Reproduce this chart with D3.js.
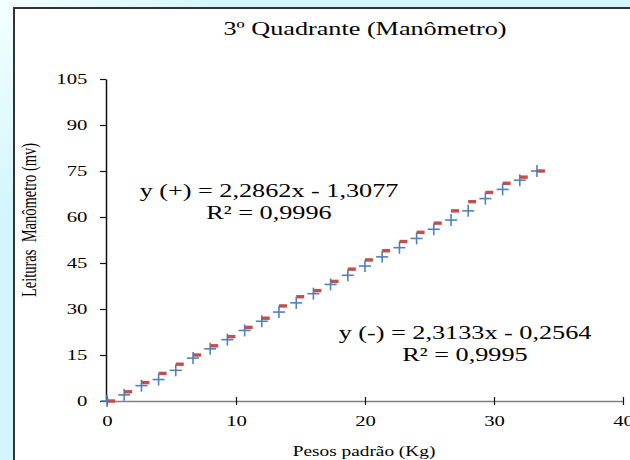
<!DOCTYPE html>
<html>
<head>
<meta charset="utf-8">
<script src="https://cdnjs.cloudflare.com/ajax/libs/d3/7.8.5/d3.min.js"></script>
<style>
body{margin:0;overflow:hidden;}
svg{display:block;}
</style>
</head>
<body>
<div id="chart"></div>
<script>
// data
var pesos = [0, 1.33, 2.67, 4, 5.33, 6.67, 8, 9.33, 10.67, 12, 13.33, 14.67, 16, 17.33, 18.67, 20, 21.33, 22.67, 24, 25.33, 26.67, 28, 29.33, 30.67, 32, 33.33];
var leiturasMais = [0, 2, 5, 7, 10, 14, 17, 20, 23, 26, 29, 32, 35, 38, 41, 44, 47, 50, 53, 56, 59, 62, 66, 69, 72, 75];
var leiturasMenos = [0, 3, 6, 9, 12, 15, 18, 21, 24, 27, 31, 34, 36, 39, 43, 46, 49, 52, 55, 58, 62, 65, 68, 71, 73, 75];
var xTicks = [0, 10, 20, 30, 40];
var yTicks = [0, 15, 30, 45, 60, 75, 90, 105];
var titulo = "3º Quadrante (Manômetro)";
var tituloX = "Pesos padrão (Kg)";
var tituloY = "Leituras\u00a0 Manômetro (mv)";
var eqMais = ["y (+) = 2,2862x - 1,3077", "R² = 0,9996"];
var eqMenos = ["y (-) = 2,3133x - 0,2564", "R² = 0,9995"];

var W = 630, H = 460;
var SX = 1.38; // text in the picture is stretched sideways
var FONT = "'Liberation Serif','Times New Roman',serif";

var svg = d3.select("#chart").append("svg").attr("width", W).attr("height", H);

var defs = svg.append("defs");
var grad = defs.append("linearGradient").attr("id", "fundo")
	.attr("gradientUnits", "userSpaceOnUse")
	.attr("x1", 0).attr("y1", 0).attr("x2", 110).attr("y2", 110);
grad.append("stop").attr("offset", "0").attr("stop-color", "#f4ffff");
grad.append("stop").attr("offset", "1").attr("stop-color", "#d3f6fc");

svg.append("rect").attr("width", W).attr("height", H).attr("fill", "url(#fundo)");
// chart frame, cut by the window on the right and bottom
svg.append("rect").attr("x", 14).attr("y", 8).attr("width", W + 10).attr("height", H + 10)
	.attr("fill", "white").attr("stroke", "#333").attr("stroke-width", 2);

var x = d3.scaleLinear().domain([0, 40]).range([107, 623]);
var y = d3.scaleLinear().domain([0, 105]).range([401, 79]);

// stretched text helper
function texto(g, tx, ty, str, size, anchor) {
	return g.append("text")
		.attr("transform", "translate(" + tx + "," + ty + ") scale(" + SX + ",1)")
		.attr("text-anchor", anchor || "middle")
		.style("font-family", FONT).style("font-size", size + "px").attr("fill", "#000")
		.text(str);
}

// y axis
var gy = svg.append("g").attr("transform", "translate(106,0)")
	.call(d3.axisLeft(y).tickValues(yTicks).tickSize(6).tickSizeOuter(0));
gy.select(".domain").attr("stroke", "#111").attr("stroke-width", 1.5);
gy.selectAll(".tick line").attr("stroke", "#111").attr("stroke-width", 1.2);
gy.selectAll(".tick text").attr("x", -13.5).attr("dy", "0.33em")
	.attr("transform", "scale(" + SX + ",1)")
	.style("font-family", FONT).style("font-size", "15px").attr("fill", "#000");

// x axis
var gx = svg.append("g").attr("transform", "translate(0,401)")
	.call(d3.axisBottom(x).tickValues(xTicks).tickSize(5).tickSizeOuter(0));
gx.select(".domain").attr("stroke", "#7f7f7f").attr("stroke-width", 1.5);
gx.selectAll(".tick line").attr("stroke", "#111").attr("stroke-width", 1.2).attr("y1", -4).attr("y2", 4);
gx.selectAll(".tick text").attr("y", 0).attr("dy", "1.65em")
	.style("font-family", FONT).style("font-size", "15px").attr("fill", "#000")
	.attr("transform", "scale(" + SX + ",1)").attr("x", 0);

// titles
texto(svg, 365, 35, titulo, 19);
texto(svg, 364, 456, tituloX, 14);
svg.append("text")
	.attr("transform", "translate(36,220) scale(" + SX + ",1) rotate(-90)")
	.attr("text-anchor", "middle")
	.style("font-family", FONT).style("font-size", "14.5px")
	.text(tituloY);

// markers
var pts = svg.append("g");
pesos.forEach(function(p, i) {
	var cx = x(p), cy = y(leiturasMais[i]);
	pts.append("line").attr("x1", cx - 6).attr("x2", cx + 6).attr("y1", cy).attr("y2", cy)
		.attr("stroke", "#4f81bd").attr("stroke-width", 1.6);
	pts.append("line").attr("x1", cx).attr("x2", cx).attr("y1", cy - 6).attr("y2", cy + 6)
		.attr("stroke", "#4f81bd").attr("stroke-width", 1.6);
});
pesos.forEach(function(p, i) {
	var cx = x(p), cy = y(leiturasMenos[i]);
	pts.append("rect").attr("x", cx).attr("y", cy - 1.7).attr("width", 8).attr("height", 3.4)
		.attr("fill", "#c0504d");
});

// trendline equations
texto(svg, 269, 197, eqMais[0], 19);
texto(svg, 269, 219, eqMais[1], 19);
texto(svg, 465, 339, eqMenos[0], 19);
texto(svg, 465, 361, eqMenos[1], 19);
</script>
</body>
</html>
